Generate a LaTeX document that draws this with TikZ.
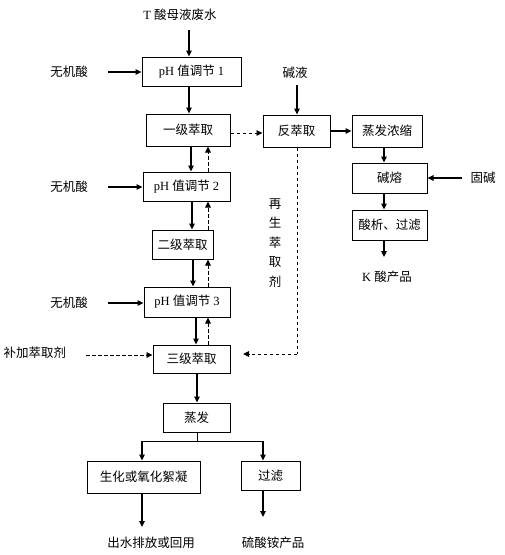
\documentclass[tikz,border=0pt]{standalone}
\usepackage{fontspec}
\setmainfont{Liberation Serif}
\newfontfamily\cjk{Noto Sans CJK SC}
\usetikzlibrary{arrows.meta,calc}
\begin{document}
\begin{tikzpicture}[x=1pt,y=-1pt,
  box/.style={draw, line width=1pt, inner sep=0pt, font=\fontsize{12.5}{14}\selectfont},
  lbl/.style={inner sep=0pt, font=\fontsize{12.5}{14}\selectfont},
  arr/.style={line width=1.1pt, -{Triangle[length=6pt,width=5.5pt]}},
  thk/.style={line width=1.6pt, -{Triangle[length=6pt,width=5.5pt]}},
  dsh/.style={line width=0.9pt, dash pattern=on 3.5pt off 2.5pt, -{Triangle[length=6pt,width=5.5pt]}},
  dln/.style={line width=0.9pt, dash pattern=on 3.5pt off 2.5pt}]
\useasboundingbox (0,0) rectangle (505,555);

% boxes
\node[box, minimum width=99pt, minimum height=29pt] (ph1) at (191.5,71.5) {pH {\cjk 值调节} 1};
\node[box, minimum width=84pt, minimum height=32pt] (e1) at (188,130) {\cjk 一级萃取};
\node[box, minimum width=87pt, minimum height=29pt] (ph2) at (186.5,186.5) {pH {\cjk 值调节} 2};
\node[box, minimum width=61pt, minimum height=29pt] (e2) at (182.5,244.5) {\cjk 二级萃取};
\node[box, minimum width=86pt, minimum height=30pt] (ph3) at (187,302) {pH {\cjk 值调节} 3};
\node[box, minimum width=77pt, minimum height=28pt] (e3) at (191.5,359) {\cjk 三级萃取};
\node[box, minimum width=67pt, minimum height=29pt] (ev) at (196.5,417.5) {\cjk 蒸发};
\node[box, minimum width=113pt, minimum height=32pt] (bio) at (143.5,477) {\cjk 生化或氧化絮凝};
\node[box, minimum width=59pt, minimum height=29pt] (flt) at (270.5,475.5) {\cjk 过滤};
\node[box, minimum width=67pt, minimum height=32pt] (back) at (296.5,131) {\cjk 反萃取};
\node[box, minimum width=70pt, minimum height=32pt] (conc) at (387,131) {\cjk 蒸发浓缩};
\node[box, minimum width=75pt, minimum height=30pt] (melt) at (389.5,178) {\cjk 碱熔};
\node[box, minimum width=75pt, minimum height=30pt] (acid) at (389.5,225) {\cjk 酸析、过滤};

% labels
\node[lbl] (tin) at (180,15) {T {\cjk 酸母液废水}};
\node[lbl] (a1) at (69,72) {\cjk 无机酸};
\node[lbl] (a2) at (69,187) {\cjk 无机酸};
\node[lbl] (a3) at (69,303) {\cjk 无机酸};
\node[lbl] (lye) at (295,73) {\cjk 碱液};
\node[lbl] (solid) at (483,178) {\cjk 固碱};
\node[lbl] (kprod) at (387,277) {K {\cjk 酸产品}};
\node[lbl, align=center, font=\fontsize{12.5}{19.5}\selectfont\cjk] (regen) at (275,243) {再\\生\\萃\\取\\剂};
\node[lbl] (add) at (35,353) {\cjk 补加萃取剂};
\node[lbl] (out) at (151,543) {\cjk 出水排放或回用};
\node[lbl] (amm) at (273,543) {\cjk 硫酸铵产品};

% free ends and columns
\coordinate (tinend) at (189,30);
\coordinate (a1e) at (108,72);
\coordinate (a2e) at (108,187);
\coordinate (a3e) at (108,303);
\coordinate (adde) at (86,355);
\coordinate (lyee) at (297,85);
\coordinate (solide) at (462,178);
\coordinate (kend) at (384,257);
\coordinate (outend) at (142,527);
\coordinate (ammend) at (263,517);
\coordinate (split) at (197,441);
\coordinate (ret) at (297,354);
\coordinate (retend) at (243,354);

% main column
\draw[arr] (tinend) -- (tinend |- ph1.north);
\draw[thk] (ph1.south -| 189,0) -- (e1.north -| 189,0);
\draw[thk] (e1.south -| 191,0) -- (ph2.north -| 191,0);
\draw[arr] (ph2.south -| 192,0) -- (e2.north -| 192,0);
\draw[thk] (e2.south -| 193,0) -- (ph3.north -| 193,0);
\draw[arr] (ph3.south -| 196,0) -- (e3.north -| 196,0);
\draw[thk] (e3.south -| 197,0) -- (ev.north -| 197,0);

% dashed returns
\draw[dsh] (ph2.north -| 208,0) -- (e1.south -| 208,0);
\draw[dsh] (e2.north -| 208,0) -- (ph2.south -| 208,0);
\draw[dsh] (ph3.north -| 208,0) -- (e2.south -| 208,0);
\draw[dsh] (e3.north -| 208,0) -- (ph3.south -| 208,0);

% acid inputs
\draw[arr] (a1e) -- (a1e -| ph1.west);
\draw[arr] (a2e) -- (a2e -| ph2.west);
\draw[arr] (a3e) -- (a3e -| ph3.west);
\draw[dsh] (adde) -- (adde -| e3.west);

% evaporation split
\draw[line width=1pt] (ev.south -| split) -- (split);
\draw[line width=1pt] (142,441) -- (263,441);
\draw[thk] (142,441) -- (bio.north -| 142,0);
\draw[arr] (263,441) -- (flt.north -| 263,0);
\draw[thk] (bio.south -| outend) -- (outend);
\draw[arr] (flt.south -| ammend) -- (ammend);

% back-extraction branch
\draw[dsh] (e1.east |- 0,133) -- (back.west |- 0,133);
\draw[arr] (lyee) -- (lyee |- back.north);
\draw[arr] (back.east) -- (conc.west);
\draw[arr] (conc.south -| 384,0) -- (melt.north -| 384,0);
\draw[arr] (solide) -- (solide -| melt.east);
\draw[thk] (melt.south -| 384,0) -- (acid.north -| 384,0);
\draw[arr] (acid.south -| kend) -- (kend);
\draw[dln] (back.south -| ret) -- (ret);
\draw[dsh] (ret) -- (retend);
\end{tikzpicture}
\end{document}
